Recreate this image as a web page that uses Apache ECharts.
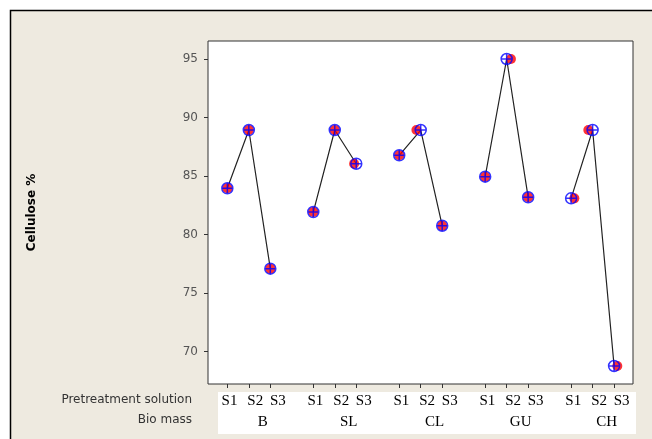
<!DOCTYPE html>
<html>
<head>
<meta charset="utf-8">
<title>Cellulose %</title>
<script src="https://cdn.jsdelivr.net/npm/echarts@6/dist/echarts.min.js"></script>
<style>
  html, body { margin: 0; padding: 0; background: #fff; }
  #main { width: 652px; height: 439px; }
</style>
</head>
<body>
<div id="main"></div>
<script>
// bio mass groups and pretreatment solutions along the x axis
var bioMass = ['B', 'SL', 'CL', 'GU', 'CH'];
var solutions = ['S1', 'S2', 'S3'];

// cellulose % per bio mass, in S1, S2, S3 order
var celB  = [83.95, 88.93, 77.08];
var celSL = [81.92, 88.93, 86.05];
var celCL = [86.77, 88.93, 80.75];
var celGU = [84.94, 95.00, 83.18];
var celCH = [83.09, 88.93, 68.76];

// y axis tick labels
var yTicks = [70, 75, 80, 85, 90, 95];

// the red dot sits a little beside the blue marker on some points (slot units)
var redShift = [0, 0, 0, 0, 0, -0.1, 0, -0.2, 0, 0, 0.2, 0, 0.15, -0.2, 0.15];

var groups = [celB, celSL, celCL, celGU, celCH];
var tickPos = [], linePts = [], bluePts = [], redPts = [];
var sLabelPos = [], sLabelText = [], gLabelPos = [], gLabelText = [];
var labelNudge = [0.1, 0.3, 0.35]; // label table is a bit wider than the ticks

groups.forEach(function (vals, g) {
	vals.forEach(function (v, s) {
		var x = g * 4 + s;
		tickPos.push(x);
		linePts.push([x, v]);
		bluePts.push([x, v]);
		redPts.push([x + redShift[g * 3 + s], v]);
		sLabelPos.push(x + labelNudge[s]);
		sLabelText.push(solutions[s]);
	});
	// break the line between groups
	if (g < groups.length - 1) linePts.push([g * 4 + 3, '-']);
	gLabelPos.push(g * 4 + 1.65);
	gLabelText.push(bioMass[g]);
});

function nearest(pos, txt) {
	return function (value) {
		var best = 0;
		for (var i = 1; i < pos.length; i++) {
			if (Math.abs(pos[i] - value) < Math.abs(pos[best] - value)) best = i;
		}
		return txt[best];
	};
}

var myChart = echarts.init(document.getElementById('main'));

var option = {
	backgroundColor: '#ffffff',
	animation: false,
	graphic: [
		{ type: 'rect', z: -10, shape: { x: 10.5, y: 10.5, width: 660, height: 450 },
		  style: { fill: '#EEEAE0', stroke: '#000', lineWidth: 1.5 } },
		{ type: 'rect', z: -9, shape: { x: 218, y: 392, width: 418, height: 42 },
		  style: { fill: '#ffffff' } },
		{ type: 'text', z: -8, x: 192, y: 400,
		  style: { text: 'Pretreatment solution', font: '12px "DejaVu Sans"', fill: '#333', align: 'right', verticalAlign: 'middle' } },
		{ type: 'text', z: -8, x: 192, y: 420,
		  style: { text: 'Bio mass', font: '12px "DejaVu Sans"', fill: '#333', align: 'right', verticalAlign: 'middle' } }
	],
	grid: {
		left: 208, top: 41, width: 425, height: 343,
		show: true, backgroundColor: '#ffffff', borderColor: '#333', borderWidth: 1
	},
	xAxis: [{
		type: 'value', min: -0.9, max: 18.88, position: 'bottom',
		axisLine: { show: false, onZero: false },
		splitLine: { show: false },
		axisTick: { show: true, customValues: tickPos, length: 4, lineStyle: { color: '#333' } },
		axisLabel: {
			customValues: sLabelPos, formatter: nearest(sLabelPos, sLabelText), margin: 10,
			fontFamily: 'Liberation Serif', fontSize: 15, color: '#000'
		}
	}, {
		type: 'value', min: -0.9, max: 18.88, position: 'bottom', offset: 21,
		axisLine: { show: false, onZero: false },
		splitLine: { show: false },
		axisTick: { show: false },
		axisLabel: {
			customValues: gLabelPos, formatter: nearest(gLabelPos, gLabelText), margin: 10,
			fontFamily: 'Liberation Serif', fontSize: 15, color: '#000'
		}
	}],
	yAxis: {
		type: 'value', min: 67.22, max: 96.54,
		name: 'Cellulose %', nameLocation: 'middle', nameGap: 170, nameRotate: 90,
		nameTextStyle: { fontFamily: 'DejaVu Sans', fontWeight: 'bold', fontSize: 12, color: '#000' },
		axisLine: { show: false, onZero: false },
		splitLine: { show: false },
		axisTick: { show: true, customValues: yTicks, length: 4, lineStyle: { color: '#333' } },
		axisLabel: { customValues: yTicks, margin: 10, fontFamily: 'DejaVu Sans', fontSize: 12, color: '#555' }
	},
	series: [{
		type: 'line', data: linePts, symbol: 'none', showSymbol: false, connectNulls: false,
		lineStyle: { color: '#222', width: 1.2 }, z: 2
	}, {
		type: 'scatter', data: redPts, symbol: 'circle', symbolSize: 10,
		itemStyle: { color: '#ff0000' }, z: 3
	}, {
		type: 'scatter', data: bluePts,
		symbol: 'path://M5,0 A5,5 0 1,1 5,10 A5,5 0 1,1 5,0 Z M0,5 L10,5 M5,0 L5,10',
		symbolSize: 11,
		itemStyle: { color: 'rgba(0,0,0,0)', borderColor: '#0000ff', borderWidth: 1.5 }, z: 4
	}]
};

myChart.setOption(option);
</script>
</body>
</html>
